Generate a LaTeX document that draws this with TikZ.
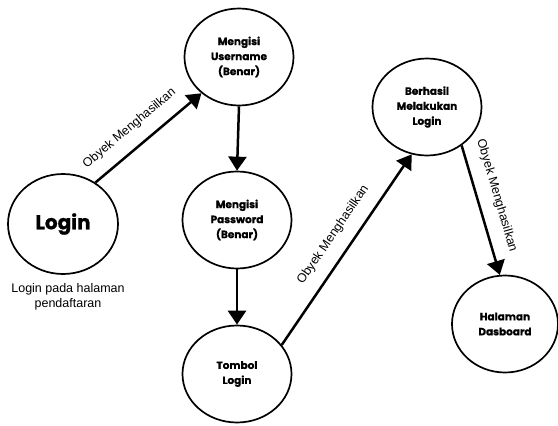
\documentclass[tikz,border=0pt]{standalone}
\usepackage{fontspec}
\setmainfont{Liberation Sans}
\newfontfamily\nodefont{Poppins}[BoldFeatures={FakeBold=0.8}]
\usetikzlibrary{shapes.geometric,arrows.meta}
\begin{document}
\begin{tikzpicture}[x=1pt,y=-1pt,
  state/.style={ellipse, draw, line width=1.7pt, inner sep=0pt,
    minimum width=109pt, minimum height=97pt, align=center,
    font=\nodefont\bfseries\fontsize{10.5}{15}\selectfont},
  flow/.style={-{Triangle[width=18pt,length=14pt]}, line width=2.5pt},
  lbl/.style={sloped, font=\fontsize{12.5}{15}\selectfont, inner sep=0pt,
    text depth=0pt, above=15pt}]
\useasboundingbox (0,0) rectangle (558,426);
\node[state, minimum width=110pt, minimum height=100pt,
  font=\nodefont\bfseries\fontsize{20}{24}\selectfont] (login) at (63,224) {Login};
\node[state] (user) at (239,57) {Mengisi\\Username\\(Benar)};
\node[state] (pass) at (237,220) {Mengisi\\Password\\(Benar)};
\node[state] (tombol) at (237,374) {Tombol\\Login};
\node[state] (berhasil) at (427,107) {Berhasil\\Melakukan\\Login};
\node[state, minimum width=106pt] (dash) at (505,324) {Halaman\\Dasboard};
\node[align=center, font=\fontsize{12.5}{14.5}\selectfont] (cap) at (68,297)
  {Login pada halaman\\pendaftaran};
\draw[flow] (login.52) -- node[lbl, pos=0.44] {Obyek Menghasilkan} (user.224);
\draw[flow] (user.south) -- (pass.north);
\draw[flow] (pass.south) -- (tombol.north);
\draw[flow] (tombol.33) -- node[lbl, pos=0.52] {Obyek Menghasilkan} (berhasil.252);
\draw[flow] (berhasil.312) -- node[lbl, pos=0.43] {Obyek Menghasilkan} (dash.96);
\end{tikzpicture}
\end{document}
